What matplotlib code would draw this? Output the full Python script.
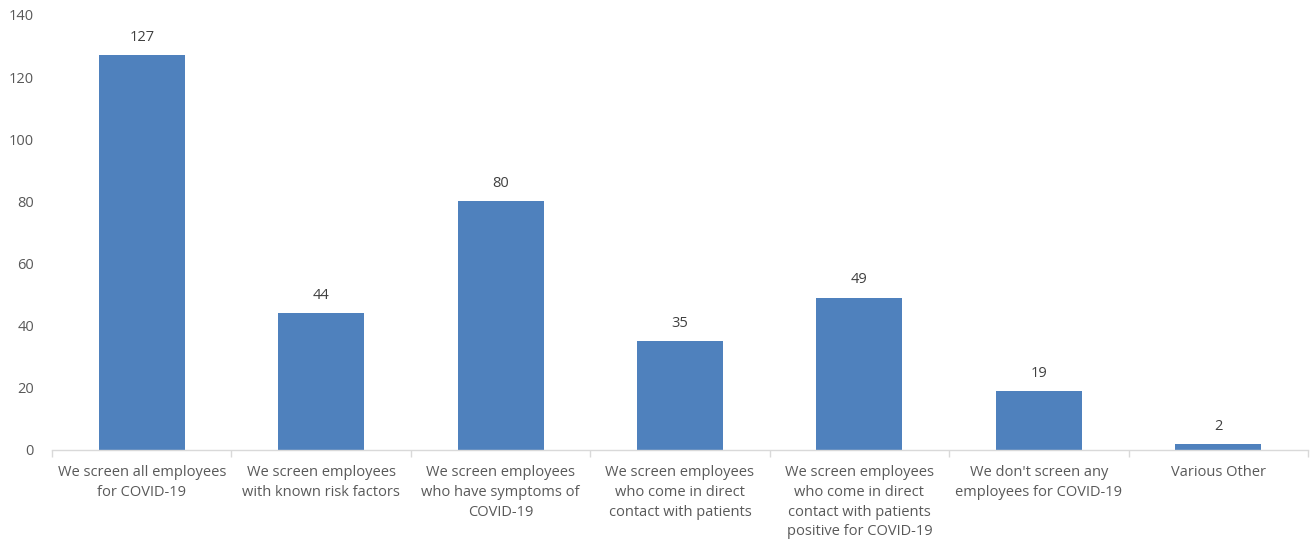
import numpy as np
import matplotlib.pyplot as plt

# survey responses
categories = [
    "We screen all employees\nfor COVID-19",
    "We screen employees\nwith known risk factors",
    "We screen employees\nwho have symptoms of\nCOVID-19",
    "We screen employees\nwho come in direct\ncontact with patients",
    "We screen employees\nwho come in direct\ncontact with patients\npositive for COVID-19",
    "We don't screen any\nemployees for COVID-19",
    "Various Other",
]
counts = [127, 44, 80, 35, 49, 19, 2]
yticks = [0, 20, 40, 60, 80, 100, 120, 140]

plt.rcParams['font.family'] = ['Open Sans', 'DejaVu Sans']
txt = '#595959'

fig = plt.figure(figsize=(13.14, 5.43), dpi=100)
ax = fig.add_axes([0.0396, 0.1713, 0.9558, 0.8011])

x = np.arange(len(counts))
bars = ax.bar(x, counts, width=0.48, color='#4F81BD', zorder=2)
for xi, v in zip(x, counts):
    ax.text(xi, v + 3.3, str(v), ha='center', va='bottom', fontsize=10.5, color='#404040')

ax.set_xlim(-0.5, len(counts) - 0.5)
ax.set_ylim(0, 140)
ax.set_yticks(yticks)
ax.set_yticklabels([str(t) for t in yticks], fontsize=10.5, color=txt)
ax.tick_params(axis='y', length=0, pad=13)

ax.set_xticks(x)
ax.set_xticklabels(categories, fontsize=10.5, color=txt, linespacing=1.42)
ax.tick_params(axis='x', length=0, pad=11)
ax.set_xticks(np.arange(-0.5, len(counts), 1), minor=True)
ax.tick_params(axis='x', which='minor', length=5, color='#D9D9D9', width=1)

for s in ['top', 'right', 'left']:
    ax.spines[s].set_visible(False)
ax.spines['bottom'].set_color('#D9D9D9')
ax.spines['bottom'].set_linewidth(1)

fig.savefig('out.png', dpi=100)
